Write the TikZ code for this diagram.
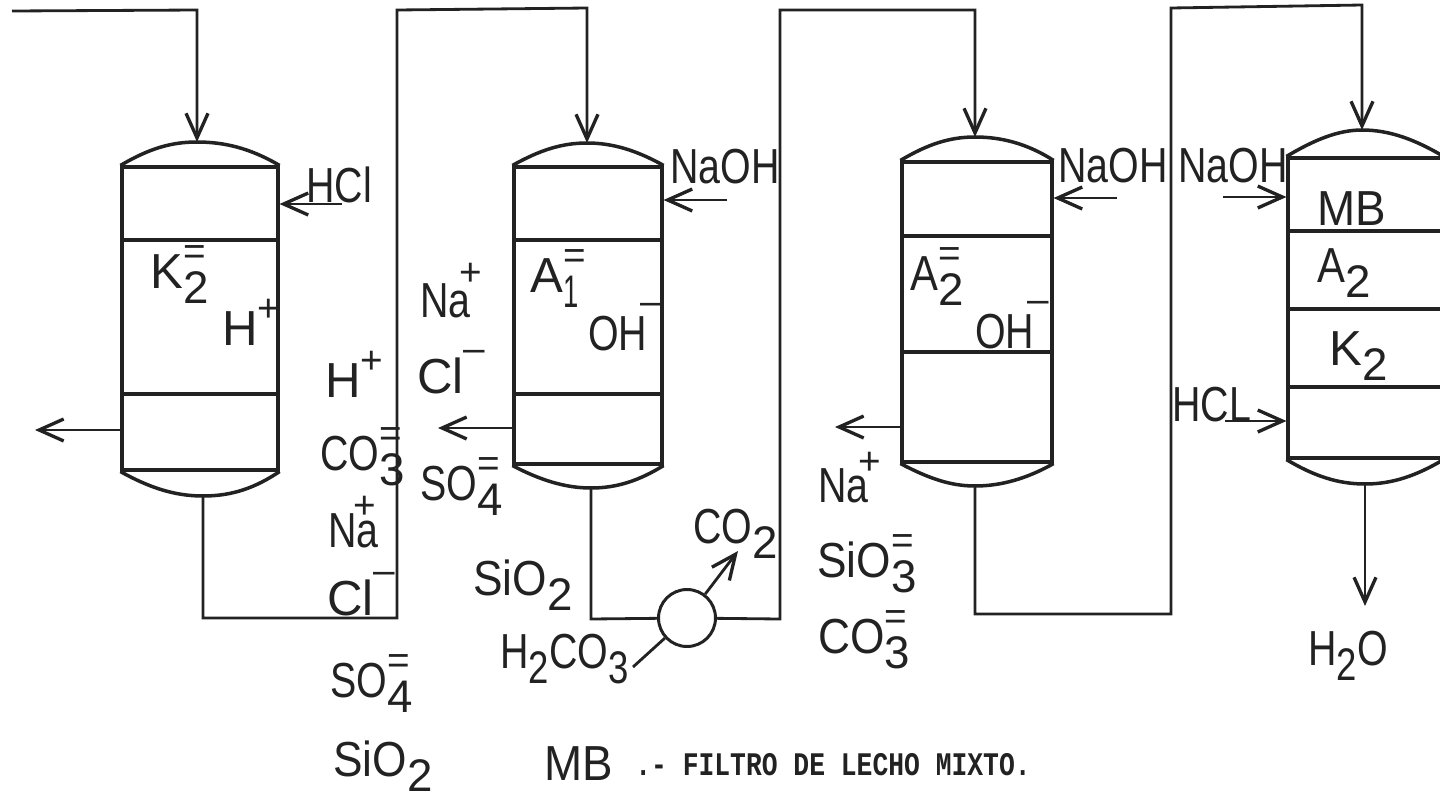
\documentclass[tikz,border=0pt]{standalone}
\usepackage{fontspec}
\usepackage{graphicx}
\setmainfont{Liberation Sans}
\newfontfamily\typefont{Liberation Mono}
\usetikzlibrary{arrows.meta}

\definecolor{inkline}{HTML}{222222}
\newcommand{\low}[1]{\raisebox{-9pt}{\fontsize{26}{26}\selectfont #1}}
\newcommand{\high}[2][.48em]{\raisebox{#1}{\fontsize{22}{22}\selectfont #2}}
% base, subscript, charge stacked over the subscript
\newcommand{\ionlabel}[3]{#1\rlap{\low{#2}}\high{#3}}
\newcommand{\tight}[2][.8]{\scalebox{#1}[1]{#2}}

\tikzset{
  pipe/.style={line width=1.6pt, draw=inkline},
  flow/.style={pipe, -{Straight Barb[length=14pt,width=12.5pt,line width=1.9pt]}},
  vessel/.style={draw=inkline, line width=1.8pt, rectangle, inner sep=0pt},
  layer/.style={line width=1.8pt, draw=inkline},
  dome/.style={line width=2pt, draw=inkline},
  chem/.style={anchor=base west, inner sep=0pt, text=inkline, font=\fontsize{28}{30}\selectfont},
  note/.style={anchor=base west, inner sep=0pt, text=inkline, font=\typefont\bfseries\fontsize{15}{17}\selectfont}
}

\begin{document}
\begin{tikzpicture}[x=0.02cm,y=-0.02cm]
    \clip (0,0) rectangle (1440,795);

    % Vessels
    \node[vessel, minimum width=3.12cm, minimum height=6.06cm] (f1) at (200,318.5) {};
    \node[vessel, minimum width=2.96cm, minimum height=5.94cm] (f2) at (588,315.5) {};
    \node[vessel, minimum width=3.00cm, minimum height=6.00cm] (f3) at (977,312) {};
    \node[vessel, minimum width=3.08cm, minimum height=6.00cm] (f4) at (1365,308) {};

    % Top and bottom heads
    \coordinate (f1top) at (197,142);
    \coordinate (f2top) at (587,143);
    \coordinate (f3top) at (975,137);
    \coordinate (f4top) at (1362,130);
    \coordinate (f1bot) at (203,496);
    \coordinate (f2bot) at (591,488);
    \coordinate (f3bot) at (975,486);
    \coordinate (f4bot) at (1365,484);
    \draw[dome] (f1.north west) .. controls (150,148) and (172,142) .. (f1top) .. controls (224,142) and (250,148) .. (f1.north east);
    \draw[dome] (f2.north west) .. controls (540,150) and (562,143) .. (f2top) .. controls (612,143) and (636,150) .. (f2.north east);
    \draw[dome] (f3.north west) .. controls (928,144) and (950,137) .. (f3top) .. controls (1002,137) and (1028,144) .. (f3.north east);
    \draw[dome] (f4.north west) .. controls (1314,140) and (1338,130) .. (f4top) .. controls (1390,130) and (1416,140) .. (f4.north east);
    \draw[dome] (f1.south west) .. controls (150,488) and (175,496) .. (f1bot) .. controls (232,496) and (255,488) .. (f1.south east);
    \draw[dome] (f2.south west) .. controls (540,480) and (565,488) .. (f2bot) .. controls (618,488) and (640,480) .. (f2.south east);
    \draw[dome] (f3.south west) .. controls (928,478) and (950,486) .. (f3bot) .. controls (1002,486) and (1028,478) .. (f3.south east);
    \draw[dome] (f4.south west) .. controls (1314,476) and (1338,484) .. (f4bot) .. controls (1392,484) and (1416,476) .. (f4.south east);

    % Bed levels
    \draw[layer] (f1.west |- 0,240) -- (f1.east |- 0,240);
    \draw[layer] (f1.west |- 0,394) -- (f1.east |- 0,394);
    \draw[layer] (f2.west |- 0,240) -- (f2.east |- 0,240);
    \draw[layer] (f2.west |- 0,394) -- (f2.east |- 0,394);
    \draw[layer] (f3.west |- 0,236) -- (f3.east |- 0,236);
    \draw[layer] (f3.west |- 0,352) -- (f3.east |- 0,352);
    \draw[layer] (f4.west |- 0,231) -- (f4.east |- 0,231);
    \draw[layer] (f4.west |- 0,309) -- (f4.east |- 0,309);
    \draw[layer] (f4.west |- 0,387) -- (f4.east |- 0,387);

    % Degasser on the line between second and third vessel
    \node[draw=inkline, line width=1.7pt, circle, minimum size=1.14cm, inner sep=0pt] (degas) at (687,618) {};

    % Bends of the main line
    \coordinate (feed) at (12,11);
    \coordinate (feedb) at (197,10);
    \coordinate (a) at (203,618);
    \coordinate (b) at (397,618);
    \coordinate (c) at (397,10);
    \coordinate (d) at (587,8);
    \coordinate (e) at (591,619);
    \coordinate (f) at (780,619);
    \coordinate (g) at (780,10);
    \coordinate (h) at (975,10);
    \coordinate (i) at (975,614);
    \coordinate (j) at (1171,614);
    \coordinate (k) at (1171,8);
    \coordinate (l) at (1362,5);
    \coordinate (water) at (1365,606);

    % Main line
    \draw[flow] (feed) -- (feedb) -- (f1top);
    \draw[flow] (f1bot) -- (a) -- (b) -- (c) -- (d) -- (f2top);
    \draw[pipe] (f2bot) -- (e) -- (degas);
    \draw[flow] (degas) -- (f) -- (g) -- (h) -- (f3top);
    \draw[flow] (f3bot) -- (i) -- (j) -- (k) -- (l) -- (f4top);
    \draw[flow] (f4bot) -- (water);

    % Side outlets
    \coordinate (out1) at (35,430);
    \coordinate (out2) at (438,428);
    \coordinate (out3) at (835,427);
    \draw[flow] (f1.west |- out1) -- (out1);
    \draw[flow] (f2.west |- out2) -- (out2);
    \draw[flow] (f3.west |- out3) -- (out3);

    % Regenerant inlets
    \coordinate (hcl1) at (342,204);
    \coordinate (naoh2) at (727,200);
    \coordinate (naoh3) at (1117,198);
    \coordinate (naoh4) at (1223,197);
    \coordinate (hcl4) at (1225,421);
    \draw[flow] (hcl1) -- (f1.east |- hcl1);
    \draw[flow] (naoh2) -- (f2.east |- naoh2);
    \draw[flow] (naoh3) -- (f3.east |- naoh3);
    \draw[flow] (naoh4) -- (f4.west |- naoh4);
    \draw[flow] (hcl4) -- (f4.west |- hcl4);

    % Gas in and out of the degasser
    \coordinate (co2end) at (738,551);
    \coordinate (acidend) at (633,667);
    \draw[flow] (degas) -- (co2end);
    \draw[pipe] (acidend) -- (degas);

    % Labels first vessel
    \node[chem] (hcla) at (306,202) {\tight{HCl}};
    \node[chem] (k2a) at (150,288) {\ionlabel{K}{2}{=}};
    \node[chem] (ha) at (222,345) {H\high{+}};

    % Labels first outlet
    \node[chem] (hb) at (325,397) {H\high{+}};
    \node[chem] (co3a) at (320,470) {\ionlabel{\tight{CO}}{3}{=}};
    \node[chem] (naa) at (328,547) {\tight{Na}\high[.58em]{\llap{+\hspace{.07em}}}};
    \node[chem] (cla) at (327,615) {Cl\high{\raisebox{.2em}{--}}};
    \node[chem] (so4a) at (330,697) {\ionlabel{\tight{SO}}{4}{=}};
    \node[chem] (sio2a) at (333,776) {\tight[.9]{SiO}\low{2}};
    \node[chem] (mbnote) at (544,780) {\tight[.93]{MB}};
    \node[note] (legend) at (635,775) {\scalebox{1}[1.25]{.- FILTRO DE LECHO MIXTO.}};

    % Labels second vessel
    \node[chem] (nab) at (420,317) {\tight{Na}\high[.65em]{\llap{+\hspace{-.3em}}}};
    \node[chem] (clb) at (417,393) {Cl\high{\raisebox{.2em}{--}}};
    \node[chem] (a1) at (530,292) {\ionlabel{A}{\tight[.6]{1}}{=}};
    \node[chem] (oha) at (588,350) {\tight{OH}\hspace{-4pt}\high{\raisebox{.3em}{--}}};
    \node[chem] (naoha) at (670,183) {\tight{NaOH}};
    \node[chem] (so4b) at (420,500) {\ionlabel{\tight{SO}}{4}{=}};
    \node[chem] (sio2b) at (473,595) {\tight[.9]{SiO}\low{2}};
    \node[chem] (co2) at (693,543) {\tight{CO}\low{2}};
    \node[chem] (h2co3) at (500,668) {\tight{H\low{2}CO\low{3}}};

    % Labels third vessel
    \node[chem] (naohb) at (1058,182) {\tight{NaOH}};
    \node[chem] (a2a) at (910,290) {\ionlabel{\tight[.85]{A}}{2}{=}};
    \node[chem] (ohb) at (975,348) {\tight{OH}\hspace{-4pt}\high{\raisebox{.3em}{--}}};
    \node[chem] (nac) at (818,502) {\tight{Na}\high[.56em]{\llap{+\hspace{-.31em}}}};
    \node[chem] (sio3) at (817,577) {\ionlabel{\tight[.9]{SiO}}{3}{=}};
    \node[chem] (co3b) at (818,653) {\ionlabel{\tight[.9]{CO}}{3}{=}};

    % Labels mixed bed
    \node[chem] (naohc) at (1178,182) {\tight{NaOH}};
    \node[chem] (mb) at (1317,225) {\tight[.93]{MB}};
    \node[chem] (a2b) at (1317,282) {\tight[.85]{A}\low{2}};
    \node[chem] (k2b) at (1329,365) {K\low{2}};
    \node[chem] (hclb) at (1172,421) {\tight{HCL}};
    \node[chem] (h2o) at (1308,665) {\tight{H\low{2}O}};
\end{tikzpicture}
\end{document}
